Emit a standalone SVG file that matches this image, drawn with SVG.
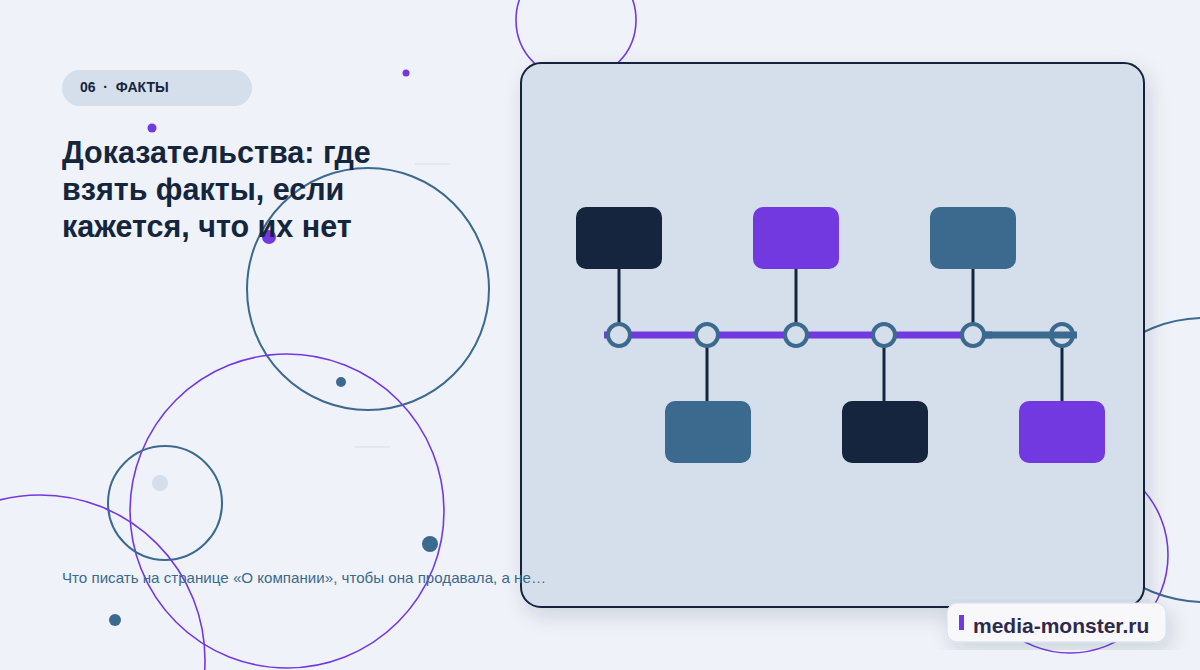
<svg xmlns="http://www.w3.org/2000/svg" width="1200" height="670" viewBox="0 0 1200 670">
<defs>
<filter id="sh" x="-10%" y="-10%" width="130%" height="130%"><feDropShadow dx="4" dy="8" stdDeviation="10" flood-color="#14233a" flood-opacity="0.15"/></filter>
<style>
.ct{fill:none;stroke:#3b6a8e;stroke-width:2}
.cp{fill:none;stroke:#7239e0;stroke-width:1.6}
.stem{stroke:#14253d;stroke-width:3}
.node{fill:#d5dfeb;stroke:#3b6a8e;stroke-width:4}
text{font-family:"Liberation Sans",Arial,sans-serif}
</style>
</defs>
<rect width="1200" height="670" fill="#eff2f8"/>
<circle class="cp" cx="576" cy="20" r="60"/>
<circle class="ct" cx="368" cy="289" r="121"/>
<circle class="cp" cx="287" cy="511" r="157" stroke-width="2"/>
<circle class="ct" cx="165" cy="503" r="57"/>
<circle class="cp" cx="40" cy="660" r="165"/>
<circle class="ct" cx="1205" cy="460" r="142"/>
<circle class="cp" cx="1070" cy="555" r="98"/>
<g>
<circle cx="406" cy="73" r="3.5" fill="#7239e0"/>
<circle cx="152" cy="128" r="4.5" fill="#7239e0"/>
<circle cx="269" cy="237" r="7" fill="#7239e0"/>
<circle cx="341" cy="382" r="5" fill="#3b6a8e"/>
<circle cx="430" cy="544" r="8" fill="#3b6a8e"/>
<circle cx="160" cy="483" r="8" fill="#d5dfeb"/>
<circle cx="115" cy="620" r="6" fill="#3b6a8e"/>
<line x1="415" y1="164" x2="450" y2="164" stroke="#d5dfeb"/>
<line x1="355" y1="447" x2="390" y2="447" stroke="#d5dfeb"/>
</g>
<g id="tag">
<rect x="62" y="70" width="190" height="36" rx="18" fill="#d5dfeb"/>
<text x="80" y="92" font-size="14" font-weight="bold" fill="#14253d" xml:space="preserve">06  ·  ФАКТЫ</text>
</g>
<g id="title" font-size="30.5" font-weight="bold" fill="#14253d">
<text x="62" y="163">Доказательства: где</text>
<text x="62" y="200">взять факты, если</text>
<text x="62" y="237">кажется, что их нет</text>
</g>
<g id="panel">
<rect x="521" y="63" width="623" height="544" rx="20" fill="#d5dfeb" stroke="#14233a" stroke-width="2" filter="url(#sh)"/>
</g>
<text x="62" y="583" font-size="14.5" fill="#3b6a8e" textLength="484" lengthAdjust="spacingAndGlyphs">Что писать на странице «О компании», чтобы она продавала, а не…</text>
<g id="connectors">
<line x1="604" y1="335" x2="992" y2="335" stroke="#7239e0" stroke-width="7"/>
<line class="stem" x1="619" y1="269" x2="619" y2="323"/>
<line class="stem" x1="796" y1="269" x2="796" y2="323"/>
<line class="stem" x1="973" y1="269" x2="973" y2="323"/>
<line class="stem" x1="707" y1="347" x2="707" y2="401"/>
<line class="stem" x1="884" y1="347" x2="884" y2="401"/>
<line class="stem" x1="1062" y1="347" x2="1062" y2="401"/>
</g>
<g id="n1"><rect x="576" y="207" width="86" height="62" rx="10" fill="#14253d"/><circle class="node" cx="619" cy="335" r="11"/></g>
<g id="n2"><rect x="665" y="401" width="86" height="62" rx="10" fill="#3b6a8e"/><circle class="node" cx="707" cy="335" r="11"/></g>
<g id="n3"><rect x="753" y="207" width="86" height="62" rx="10" fill="#7239e0"/><circle class="node" cx="796" cy="335" r="11"/></g>
<g id="n4"><rect x="842" y="401" width="86" height="62" rx="10" fill="#14253d"/><circle class="node" cx="884" cy="335" r="11"/></g>
<g id="n5"><rect x="930" y="207" width="86" height="62" rx="10" fill="#3b6a8e"/><circle class="node" cx="973" cy="335" r="11"/></g>
<g id="n6"><rect x="1019" y="401" width="86" height="62" rx="10" fill="#7239e0"/><circle class="node" cx="1062" cy="335" r="11" fill="none"/></g>
<line x1="985" y1="335" x2="1077" y2="335" stroke="#3b6a8e" stroke-width="7"/>
<g id="brand">
<rect x="947" y="603" width="219" height="39" rx="10" fill="#f8f8fa" stroke="#d5dfeb" filter="url(#sh)"/>
<rect x="959" y="615" width="5" height="15" fill="#7239e0"/>
<text x="973" y="633" font-size="21" font-weight="bold" fill="#2e2a4e">media-monster.ru</text>
</g>
</svg>
